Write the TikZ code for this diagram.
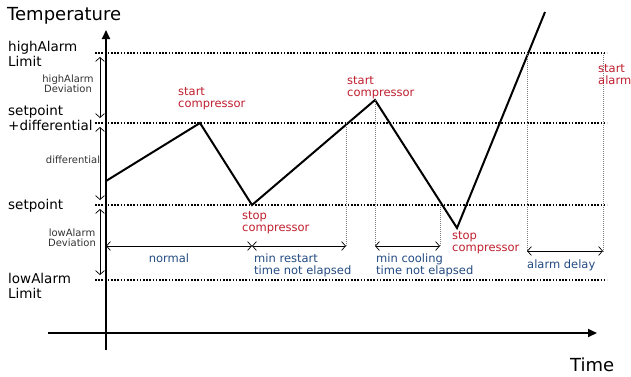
\documentclass[tikz,border=0pt]{standalone}
\usepackage{fontspec}
\setmainfont{DejaVu Sans}
\usetikzlibrary{arrows.meta, positioning}
\definecolor{alarmred}{RGB}{190, 30, 45}
\definecolor{timeblue}{RGB}{35, 75, 130}
\definecolor{devgray}{RGB}{50, 50, 50}

\begin{document}
\begin{tikzpicture}[x=1pt, y=-1pt,
  axis/.style={line width=1.8pt, -{Triangle[length=9pt, width=8pt]}},
  limit/.style={line width=1.6pt, dash pattern=on 1.6pt off 1.6pt},
  guide/.style={line width=0.5pt, gray, dash pattern=on 1pt off 1pt},
  span/.style={line width=0.7pt, {Straight Barb[length=4pt, width=9pt]}-{Straight Barb[length=4pt, width=9pt]}},
  bigtxt/.style={font=\fontsize{13.5}{15}\selectfont, align=left, anchor=base west, inner sep=0pt},
  devtxt/.style={font=\fontsize{10}{10}\selectfont, text=devgray, align=center, anchor=base, inner sep=0pt},
  eventtxt/.style={font=\fontsize{11.5}{12}\selectfont, text=alarmred, align=left, anchor=base west, inner sep=0pt},
  timetxt/.style={font=\fontsize{11.5}{12}\selectfont, text=timeblue, align=left, anchor=base west, inner sep=0pt}
]
  \useasboundingbox (0,0) rectangle (631,376);

  % Axes
  \coordinate (ybot) at (106,350);
  \coordinate (ytop) at (106,30);
  \coordinate (xleft) at (48,333);
  \coordinate (xright) at (597,333);
  \draw[axis] (ybot) -- (ytop);
  \draw[axis] (xleft) -- (xright);
  \node[bigtxt, font=\fontsize{18}{20}\selectfont] (temp) at (7,20) {Temperature};
  \node[bigtxt, font=\fontsize{18}{20}\selectfont] (time) at (570,371) {Time};

  % Limit lines
  \coordinate (hlw) at (95,53);  \coordinate (hle) at (607,53);
  \coordinate (sdw) at (95,123); \coordinate (sde) at (607,123);
  \coordinate (spw) at (95,205); \coordinate (spe) at (607,205);
  \coordinate (llw) at (95,280); \coordinate (lle) at (607,280);
  \draw[limit] (hlw) -- (hle);
  \draw[limit] (sdw) -- (sde);
  \draw[limit] (spw) -- (spe);
  \draw[limit] (llw) -- (lle);
  \node[bigtxt] (hlim) at (8,66) {highAlarm\\Limit};
  \node[bigtxt] (spdiff) at (8,130) {setpoint\\+differential};
  \node[bigtxt] (setp) at (8,209) {setpoint};
  \node[bigtxt] (llim) at (8,298) {lowAlarm\\Limit};

  % Deviations
  \coordinate (hd1) at (100,57);  \coordinate (hd2) at (100,118);
  \coordinate (df1) at (100,127); \coordinate (df2) at (100,200);
  \coordinate (ld1) at (100,209); \coordinate (ld2) at (100,275);
  \draw[span] (hd1) -- (hd2);
  \draw[span] (df1) -- (df2);
  \draw[span] (ld1) -- (ld2);
  \node[devtxt] (hdev) at (68,92) {highAlarm\\Deviation};
  \node[devtxt] (diff) at (73,163) {differential};
  \node[devtxt] (ldev) at (72,246) {lowAlarm\\Deviation};

  % Temperature curve
  \coordinate (c0) at (106,181);
  \coordinate (c1) at (200,123);
  \coordinate (c2) at (252,205);
  \coordinate (c3) at (375,100);
  \coordinate (c4) at (457,228);
  \coordinate (c5) at (545,12);
  \draw[line width=2pt, line join=miter] (c0) -- (c1) -- (c2) -- (c3) -- (c4) -- (c5);

  % Guides
  \coordinate (g1t) at (346,123); \coordinate (g1b) at (346,246);
  \coordinate (g2t) at (375,100); \coordinate (g2b) at (375,246);
  \coordinate (g3t) at (440,205); \coordinate (g3b) at (440,246);
  \coordinate (g4t) at (527,53);  \coordinate (g4b) at (527,252);
  \coordinate (g5t) at (603,53);  \coordinate (g5b) at (603,252);
  \draw[guide] (g1t) -- (g1b);
  \draw[guide] (g2t) -- (g2b);
  \draw[guide] (g3t) -- (g3b);
  \draw[guide] (g4t) -- (g4b);
  \draw[guide] (g5t) -- (g5b);

  % Time spans
  \coordinate (t0) at (106,246);
  \coordinate (t1) at (252,246);
  \coordinate (t2) at (346,246);
  \coordinate (t3) at (375,246);
  \coordinate (t4) at (440,246);
  \coordinate (t5) at (527,251);
  \coordinate (t6) at (603,251);
  \draw[span] (t0) -- (t1);
  \draw[span] (t1) -- (t2);
  \draw[span] (t3) -- (t4);
  \draw[span] (t5) -- (t6);
  \node[timetxt, anchor=base] (normal) at (169,262) {normal};
  \node[timetxt] (restart) at (254,274) {min restart\\time not elapsed};
  \node[timetxt] (cooling) at (376,274) {min cooling\\time not elapsed};
  \node[timetxt] (delay) at (527,268) {alarm delay};

  % Events
  \node[eventtxt] (start1) at (178,107) {start\\compressor};
  \node[eventtxt] (start2) at (347,96) {start\\compressor};
  \node[eventtxt] (stop1) at (242,231) {stop\\compressor};
  \node[eventtxt] (stop2) at (452,251) {stop\\compressor};
  \node[eventtxt] (alarm) at (598,84) {start\\alarm};
\end{tikzpicture}
\end{document}
